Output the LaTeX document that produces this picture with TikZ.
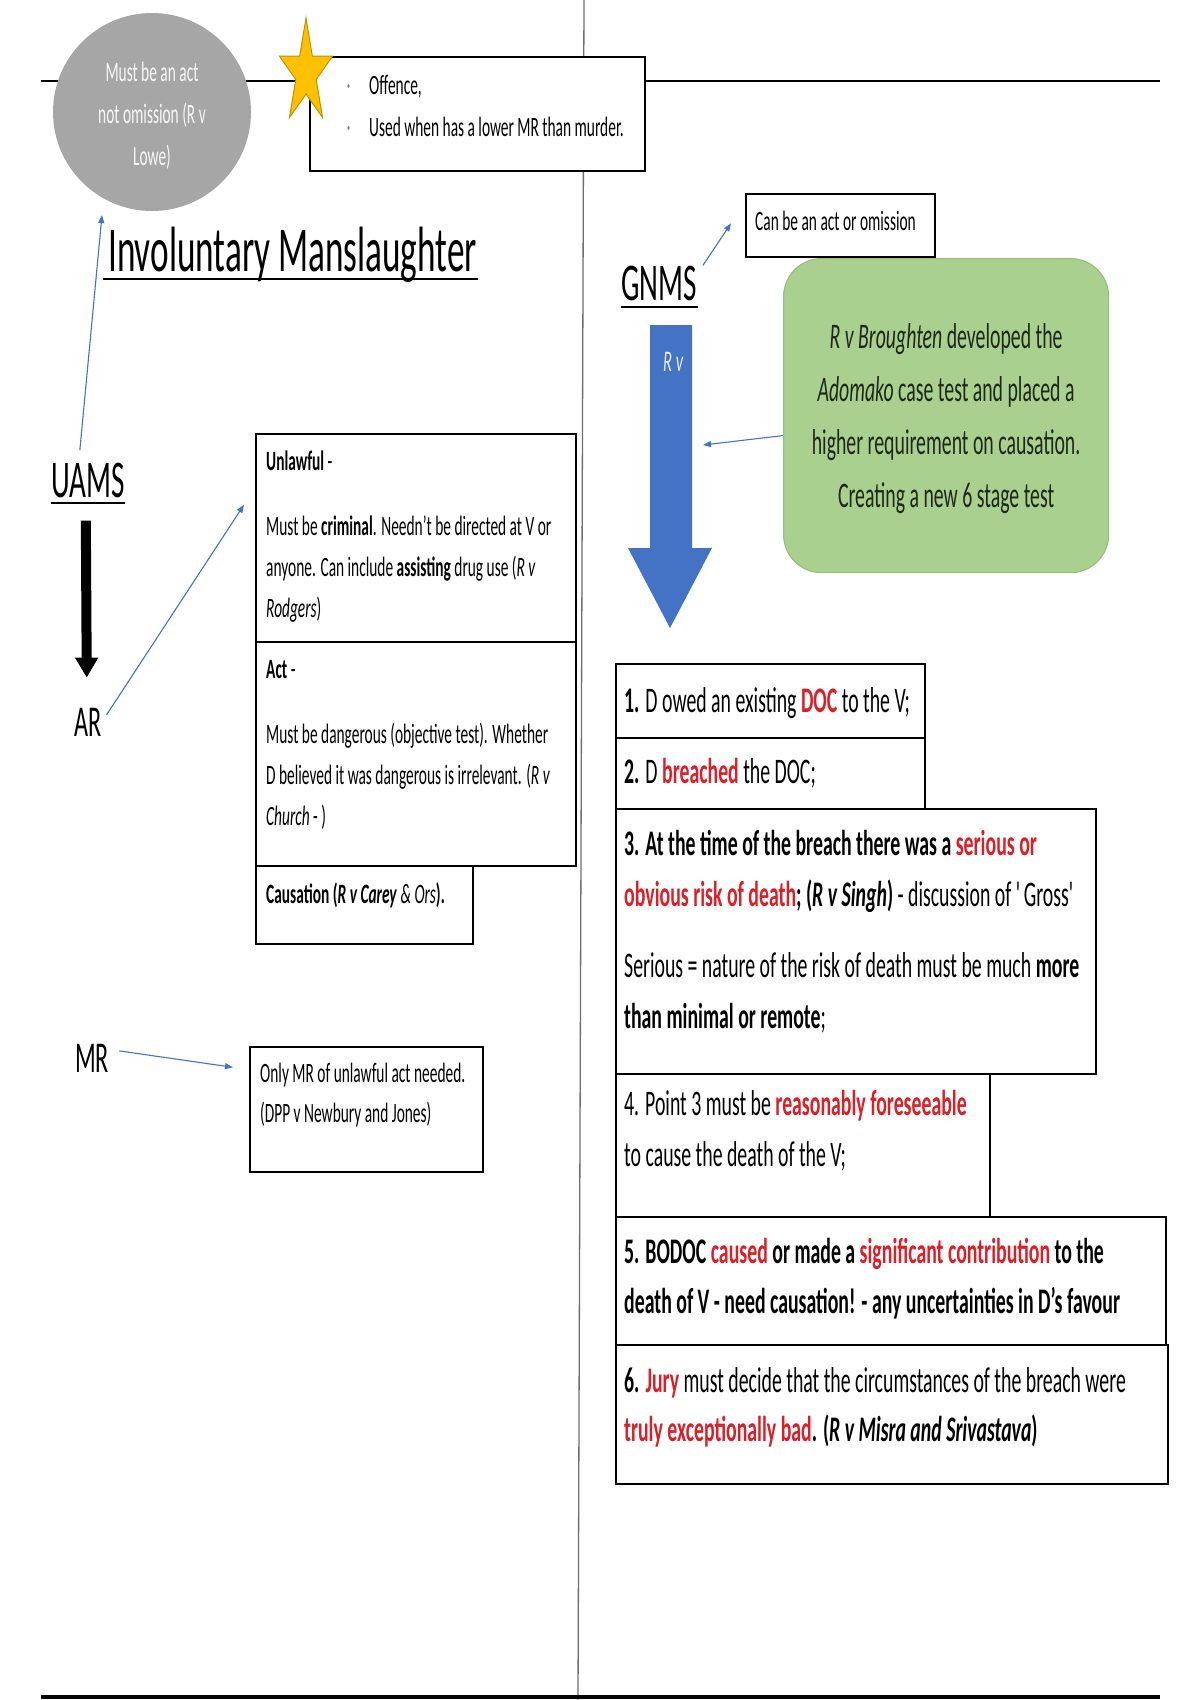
\documentclass[tikz,border=0pt]{standalone}
\usepackage{fontspec}
\setmainfont{Carlito}[FakeStretch=0.55]
\usepackage{xcolor}
\usetikzlibrary{arrows.meta,positioning,calc}

\definecolor{linkblue}{RGB}{68,114,196}
\definecolor{keyred}{RGB}{222,30,38}
\definecolor{dotgray}{RGB}{166,166,166}
\definecolor{stargold}{RGB}{255,192,0}
\definecolor{starrim}{RGB}{191,144,0}
\definecolor{leafgreen}{RGB}{169,208,142}
\definecolor{leafrim}{RGB}{150,192,125}
\definecolor{divgray}{RGB}{110,110,110}

\newcommand{\kr}[1]{\textcolor{keyred}{\textbf{#1}}}
\newcommand{\bul}{\makebox[25pt][l]{\hspace{3pt}\raisebox{5pt}{\textcolor{gray}{\fontsize{11}{11}\selectfont\textbullet}}}}

\tikzset{
  notebox/.style={draw=black, line width=1.6pt, fill=white, inner sep=0pt, anchor=north west},
  txt/.style={anchor=base west, inner sep=0pt, align=left, font=\fontsize{28}{41}\selectfont},
  steptxt/.style={anchor=base west, inner sep=0pt, align=left, font=\fontsize{36}{51}\selectfont},
  headtxt/.style={anchor=base west, inner sep=0pt, font=\fontsize{53}{60}\selectfont},
  subtxt/.style={anchor=base west, inner sep=0pt, font=\fontsize{44}{50}\selectfont},
  link/.style={draw=linkblue, line width=1.1pt, -{Triangle[length=8pt,width=6pt]}},
  uline/.style={line width=2.5pt}
}

\begin{document}
\begin{tikzpicture}[x=1pt, y=-1pt]
\useasboundingbox (0,0) rectangle (1200,1700);
\fill[white] (0,0) rectangle (1200,1700);

% Text column positions (multi-line texts sit on their last baseline)
\def\leftx{266}
\def\stepx{624}

% Rules and divider
\draw[line width=2.2pt] (41,81) -- (1160,81);
\draw[divgray, line width=1.3pt] (584,0) -- (578,1700);
\draw[line width=4pt] (41,1697) -- (1160,1697);

% Circle, star and offence box
\node[circle, fill=dotgray, minimum size=198pt, inner sep=0pt] (omit) at (152,112) {};
\node[align=center, inner sep=0pt, text=white!94!gray, font=\fontsize{28}{42}\selectfont]
      (omittxt) at (152,116) {Must be an act\\not omission (R v\\Lowe)};
\node[notebox, minimum width=335pt, minimum height=114pt] (offbox) at (309,56) {};
\node[txt, font=\fontsize{28}{42}\selectfont] (offtxt) at (344,136)
      {\bul Offence,\\\bul Used when has a lower MR than murder.};
\filldraw[fill=stargold, draw=starrim, line width=1pt]
  (306,18) -- (312.3,56) -- (332.6,56) -- (316.2,79.5) -- (322.5,117.5) -- (306,94)
  -- (289.5,117.5) -- (295.8,79.5) -- (279.4,56) -- (299.7,56) -- cycle;

% Title
\node[anchor=base west, inner sep=0pt, font=\fontsize{64}{70}\selectfont] (title) at (108,271)
      {Involuntary Manslaughter};
\draw[uline] ($(title.base west)+(-5,8)$) -- ($(title.base east)+(1,8)$);

% UAMS side
\node[headtxt] (uams) at (51,497) {UAMS};
\draw[uline] ($(uams.base west)+(0,6)$) -- ($(uams.base east)+(0,6)$);
\node[subtxt] (ar) at (74,736) {AR};
\node[subtxt] (mr) at (75,1072) {MR};

\node[notebox, minimum width=320pt, minimum height=208pt] (unlawful) at (255,433) {};
\node[notebox, minimum width=320pt, minimum height=224pt] (act) at (255,641) {};
\node[notebox, minimum width=217pt, minimum height=78pt] (causation) at (255,865) {};
\node[notebox, minimum width=233pt, minimum height=125pt] (mrbox) at (249,1046) {};

\node[txt] (unlawtxt) at (\leftx,617)
      {\textbf{Unlawful} -\\[24pt]Must be \textbf{criminal}. Needn't be directed at V or\\anyone. Can include \textbf{assisting} drug use (\textit{R v}\\\textit{Rodgers})};
\node[txt] (acttxt) at (\leftx,825)
      {\textbf{Act} -\\[24pt]Must be dangerous (objective test). Whether\\D believed it was dangerous is irrelevant. (\textit{R v}\\\textit{Church} - )};
\node[txt] (causetxt) at (\leftx,903)
      {\textbf{Causation (\textit{R v Carey}} \textit{\& Ors}\textbf{).}};
\node[txt, font=\fontsize{28}{40}\selectfont] (mrtxt) at (260,1122)
      {Only MR of unlawful act needed.\\(DPP v Newbury and Jones)};

\draw[line width=10pt, -{Triangle[length=20pt,width=22pt]}]
  ([xshift=-2pt, yshift=-23pt]uams.south) -- ([xshift=-1pt, yshift=30pt]ar.north);
\draw[link] ([xshift=-8pt, yshift=12pt]uams.north) -- (102,215);
\draw[link] ([shift={(5pt,7pt)}]ar.east) -- ([shift={(-11pt,33pt)}]unlawful.west);
\draw[link] ([shift={(10pt,7pt)}]mr.east) -- ([shift={(-16pt,42pt)}]mrbox.west);

% GNMS side
\node[headtxt] (gnms) at (621,300) {GNMS};
\draw[uline] ($(gnms.base west)+(0,7)$) -- ($(gnms.base east)+(1,7)$);
\node[notebox, minimum width=189pt, minimum height=63pt] (canbox) at (745,193) {};
\node[txt] (cantxt) at (755,230) {Can be an act or omission};
\draw[link] ([xshift=6pt]gnms.north east) -- ([shift={(-14pt,2pt)}]canbox.west);

\fill[linkblue] (650,325) -- (692,325) -- (692,548) -- (712,548) -- (670,628)
  -- (628,548) -- (650,548) -- cycle;
\node[anchor=base west, inner sep=0pt, text=white!88!linkblue,
      font=\fontsize{30}{30}\selectfont\itshape] (rvtag) at (663,371) {R~v};
\coordinate (shaftpt) at (703,445);

\node[notebox, draw=leafrim, fill=leafgreen, line width=1.2pt, rounded corners=38pt,
      minimum width=325pt, minimum height=314pt] (broughten) at (783,258) {};
\node[align=center, inner sep=0pt, text={rgb,255:red,30;green,40;blue,26},
      font=\fontsize{36}{53}\selectfont] (broughtxt) at ([yshift=-3pt]broughten.center)
      {\textit{R v Broughten} developed the\\\textit{Adomako} case test and placed a\\higher requirement on causation.\\Creating a new 6 stage test};
\draw[link] ([yshift=-20pt]broughten.west) -- (shaftpt);

% Six stage test
\node[notebox, minimum width=309pt, minimum height=74pt] (stepa) at (615,663) {};
\node[notebox, minimum width=309pt, minimum height=71pt] (stepb) at (615,737) {};
\node[notebox, minimum width=480pt, minimum height=265pt] (stepc) at (615,808) {};
\node[notebox, minimum width=374pt, minimum height=143pt] (stepd) at (615,1073) {};
\node[notebox, minimum width=550pt, minimum height=128pt] (stepe) at (615,1216) {};
\node[notebox, minimum width=552pt, minimum height=139pt] (stepf) at (615,1344) {};

\node[steptxt] (stepatxt) at (\stepx,712) {\textbf{1.} D owed an existing \kr{DOC} to the V;};
\node[steptxt] (stepbtxt) at (\stepx,783) {\textbf{2.} D \kr{breached} the DOC;};
\node[steptxt] (stepctxt) at (\stepx,1028)
      {\textbf{3. At the time of the breach there was a} \kr{serious or}\\\kr{obvious risk of death}\textbf{; (\textit{R v Singh})} - discussion of \textquotesingle Gross\textquotesingle\\[20pt]Serious = nature of the risk of death must be much \textbf{more}\\\textbf{than minimal or remote};};
\node[steptxt] (stepdtxt) at (\stepx,1166)
      {4. Point 3 must be \kr{reasonably foreseeable}\\to cause the death of the V;};
\node[steptxt, font=\fontsize{36}{50}\selectfont] (stepetxt) at (\stepx,1313)
      {\textbf{5. BODOC} \kr{caused} \textbf{or made a} \kr{significant contribution} \textbf{to the}\\\textbf{death of V - need causation! - any uncertainties in D's favour}};
\node[steptxt, font=\fontsize{36}{49}\selectfont] (stepftxt) at (\stepx,1441)
      {\textbf{6.} \kr{Jury} must decide that the circumstances of the breach were\\\kr{truly exceptionally bad}\textbf{. (\textit{R v Misra and Srivastava})}};
\end{tikzpicture}
\end{document}
